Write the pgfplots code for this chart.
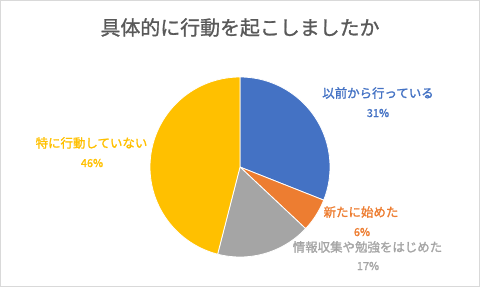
\documentclass[border=0pt]{standalone}
\usepackage{pgfplots}
\pgfplotsset{compat=1.18}
\usepackage{fontspec}
\setmainfont{Noto Sans CJK JP}
\newfontfamily\titlefont{Noto Sans CJK JP}[FakeBold=1.2]
\newfontfamily\labfont{Noto Sans CJK JP}[FakeBold=1.5]
\definecolor{cBlue}{HTML}{4472C4}
\definecolor{cOrange}{HTML}{ED7D31}
\definecolor{cGray}{HTML}{A5A5A5}
\definecolor{cYellow}{HTML}{FFC000}
\definecolor{cTitle}{HTML}{595959}
\definecolor{cFrame}{HTML}{D9D9D9}
% data (percent)
\def\vA{31}\def\vB{6}\def\vC{17}\def\vD{46}
\begin{document}
\begin{tikzpicture}
\pgfmathsetmacro{\aA}{90}
\pgfmathsetmacro{\aB}{90-3.6*\vA}
\pgfmathsetmacro{\aC}{\aB-3.6*\vB}
\pgfmathsetmacro{\aD}{\aC-3.6*\vC}
\pgfmathsetmacro{\aE}{\aD-3.6*\vD}
\begin{axis}[
  scale only axis, width=480bp, height=287bp,
  xmin=0, xmax=480, ymin=0, ymax=287,
  hide axis, clip=false,
]
\addplot[fill=cBlue, draw=white, line width=0.8pt, domain=\aB:\aA, samples=80, variable=\t]
  ({240+90*cos(\t)},{120+90*sin(\t)}) -- (axis cs:240,120) -- cycle;
\addplot[fill=cOrange, draw=white, line width=0.8pt, domain=\aC:\aB, samples=30, variable=\t]
  ({240+90*cos(\t)},{120+90*sin(\t)}) -- (axis cs:240,120) -- cycle;
\addplot[fill=cGray, draw=white, line width=0.8pt, domain=\aD:\aC, samples=50, variable=\t]
  ({240+90*cos(\t)},{120+90*sin(\t)}) -- (axis cs:240,120) -- cycle;
\addplot[fill=cYellow, draw=white, line width=0.8pt, domain=\aE:\aD, samples=100, variable=\t]
  ({240+90*cos(\t)},{120+90*sin(\t)}) -- (axis cs:240,120) -- cycle;
\draw[cFrame, line width=1pt] (axis cs:0.5,0.5) rectangle (axis cs:479.5,286.5);
\node[text=cTitle, font=\titlefont\fontsize{20}{22}\selectfont] at (axis cs:240,259.5) {具体的に行動を起こしましたか};
\node[text=cBlue, font=\labfont\fontsize{12.5}{14}\selectfont] at (axis cs:378,194) {以前から行っている};
\node[text=cBlue, font=\labfont\fontsize{11}{12}\selectfont] at (axis cs:378,174) {31\%};
\node[text=cOrange, font=\labfont\fontsize{12.5}{14}\selectfont] at (axis cs:361,75) {新たに始めた};
\node[text=cOrange, font=\labfont\fontsize{11}{12}\selectfont] at (axis cs:362,55) {6\%};
\node[text=cGray, font=\labfont\fontsize{12.5}{14}\selectfont] at (axis cs:367.5,40) {情報収集や勉強をはじめた};
\node[text=cGray, font=\labfont\fontsize{11}{12}\selectfont] at (axis cs:368,21) {17\%};
\node[text=cYellow, font=\labfont\fontsize{12.5}{14}\selectfont] at (axis cs:91.5,144) {特に行動していない};
\node[text=cYellow, font=\labfont\fontsize{11}{12}\selectfont] at (axis cs:92,124) {46\%};
\end{axis}
\end{tikzpicture}
\end{document}
